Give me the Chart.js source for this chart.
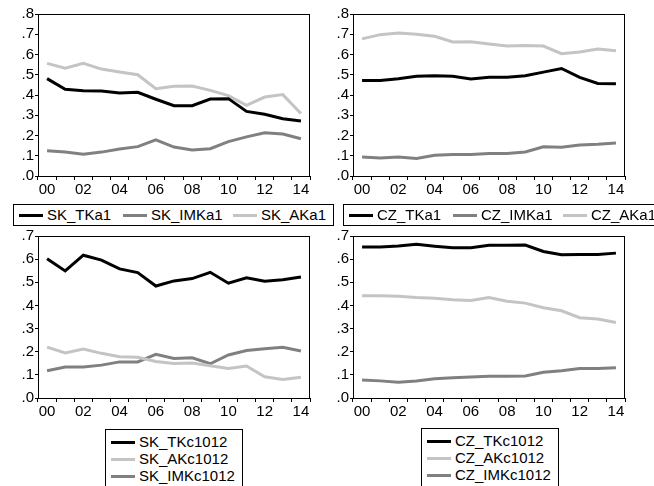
<!DOCTYPE html>
<html>
<head>
<meta charset="utf-8">
<script src="https://cdn.jsdelivr.net/npm/chart.js@4"></script>
<style>
  body { margin: 0; background: #fff; width: 654px; height: 486px; overflow: hidden; position: relative; font-family: "Liberation Sans", Arial, sans-serif; }
  .panel { position: absolute; }
  .legend { position: absolute; border: 1px solid #000; background: #fff; font-size: 15px; color: #000; }
  .legend .item { position: absolute; white-space: nowrap; line-height: 17px; }
  .legend .swatch { display: inline-block; width: 24px; height: 3px; vertical-align: middle; margin-right: 4px; position: relative; top: -1px; }
</style>
</head>
<body>
<div class="panel" style="left:0;top:0"><canvas id="c1" width="320" height="200"></canvas></div>
<div class="panel" style="left:315px;top:0"><canvas id="c2" width="335" height="200"></canvas></div>
<div class="panel" style="left:0;top:222px"><canvas id="c3" width="320" height="200"></canvas></div>
<div class="panel" style="left:315px;top:222px"><canvas id="c4" width="335" height="200"></canvas></div>
<div id="leg1" class="legend" style="left:13px;top:204px;width:319px;height:20px"></div>
<div id="leg2" class="legend" style="left:343px;top:204px;width:330px;height:20px"></div>
<div id="leg3" class="legend" style="left:105px;top:429px;width:136px;height:70px"></div>
<div id="leg4" class="legend" style="left:421px;top:428px;width:136px;height:70px"></div>
<script>
// --- DATA ---
const years = ['00','01','02','03','04','05','06','07','08','09','10','11','12','13','14'];

const skTKa1  = [0.481,0.428,0.421,0.420,0.410,0.413,0.379,0.347,0.347,0.380,0.382,0.319,0.305,0.283,0.272];
const skIMKa1 = [0.125,0.118,0.107,0.118,0.133,0.145,0.178,0.143,0.128,0.135,0.170,0.193,0.214,0.207,0.184];
const skAKa1  = [0.556,0.532,0.556,0.528,0.514,0.500,0.431,0.443,0.444,0.423,0.397,0.349,0.390,0.402,0.309];

const czTKa1  = [0.472,0.472,0.480,0.493,0.495,0.493,0.479,0.488,0.488,0.495,0.513,0.531,0.487,0.457,0.455];
const czIMKa1 = [0.094,0.089,0.094,0.087,0.102,0.106,0.106,0.111,0.111,0.119,0.144,0.142,0.153,0.157,0.163];
const czAKa1  = [0.677,0.698,0.706,0.700,0.690,0.662,0.663,0.652,0.642,0.644,0.642,0.604,0.612,0.627,0.619];

const skTKc1012  = [0.602,0.549,0.617,0.596,0.558,0.542,0.484,0.506,0.516,0.543,0.496,0.519,0.505,0.511,0.523];
const skAKc1012  = [0.220,0.195,0.212,0.193,0.178,0.176,0.158,0.149,0.151,0.139,0.128,0.138,0.092,0.080,0.090];
const skIMKc1012 = [0.118,0.134,0.134,0.142,0.156,0.156,0.189,0.171,0.174,0.148,0.186,0.205,0.213,0.219,0.203];

const czTKc1012  = [0.652,0.652,0.657,0.664,0.656,0.649,0.649,0.660,0.660,0.661,0.633,0.619,0.620,0.620,0.626];
const czAKc1012  = [0.442,0.442,0.440,0.434,0.431,0.425,0.421,0.434,0.418,0.410,0.390,0.377,0.347,0.341,0.326];
const czIMKc1012 = [0.078,0.074,0.068,0.073,0.083,0.087,0.091,0.094,0.094,0.095,0.111,0.118,0.127,0.127,0.131];

const BLACK = '#000000', MID = '#808080', LIGHT = '#c4c4c4';
const FONT = { family: '"Liberation Sans", Arial, sans-serif', size: 15 };

// --- PLUGIN: box around plot area ---
const framePlugin = {
  id: 'frame',
  afterDraw(chart) {
    const a = chart.chartArea, ctx = chart.ctx;
    ctx.save();
    ctx.strokeStyle = '#000';
    ctx.lineWidth = 1;
    ctx.strokeRect(Math.round(a.left) + 0.5, Math.round(a.top) + 0.5, Math.round(a.right - a.left) - 1, Math.round(a.bottom - a.top));
    ctx.restore();
  }
};

function makeChart(id, series, yMax, rightPad) {
  return new Chart(document.getElementById(id), {
    type: 'line',
    data: {
      labels: years,
      datasets: series.map(s => ({
        label: s.label, data: s.data, borderColor: s.color, borderWidth: 3,
        pointRadius: 0, tension: 0, fill: false
      }))
    },
    options: {
      responsive: false, animation: false, devicePixelRatio: 1,
      layout: { padding: { top: 14, right: rightPad, left: 0, bottom: 0 } },
      plugins: { legend: { display: false }, tooltip: { enabled: false } },
      scales: {
        x: {
          type: 'category', offset: true,
          grid: { offset: true, drawOnChartArea: false, drawTicks: true, tickLength: 4, color: '#000' },
          border: { color: '#000' },
          ticks: { color: '#000', font: FONT, autoSkip: false, maxRotation: 0, padding: 1,
                   callback: (v, i) => i % 2 === 0 ? years[i] : '' },
          afterFit: s => { s.height = 24; }
        },
        y: {
          min: 0, max: yMax,
          grid: { drawOnChartArea: false, drawTicks: true, tickLength: 3, color: '#000' },
          border: { color: '#000' },
          ticks: { color: '#000', font: FONT, stepSize: 0.1, padding: 1, autoSkip: false,
                   callback: v => v.toFixed(1).replace(/^0/, '') },
          afterFit: s => { s.width = 38; }
        }
      }
    },
    plugins: [framePlugin]
  });
}

function buildLegend(id, items, positions) {
  const el = document.getElementById(id);
  items.forEach((it, i) => {
    const d = document.createElement('div');
    d.className = 'item';
    d.style.left = positions[i][0] + 'px';
    d.style.top = positions[i][1] + 'px';
    d.innerHTML = `<span class="swatch" style="background:${it.color}"></span>${it.label}`;
    el.appendChild(d);
  });
}

document.addEventListener('DOMContentLoaded', () => {
  const s1 = [
    { label: 'SK_TKa1', data: skTKa1, color: BLACK },
    { label: 'SK_IMKa1', data: skIMKa1, color: MID },
    { label: 'SK_AKa1', data: skAKa1, color: LIGHT }
  ];
  const s2 = [
    { label: 'CZ_TKa1', data: czTKa1, color: BLACK },
    { label: 'CZ_IMKa1', data: czIMKa1, color: MID },
    { label: 'CZ_AKa1', data: czAKa1, color: LIGHT }
  ];
  const s3 = [
    { label: 'SK_TKc1012', data: skTKc1012, color: BLACK },
    { label: 'SK_AKc1012', data: skAKc1012, color: LIGHT },
    { label: 'SK_IMKc1012', data: skIMKc1012, color: MID }
  ];
  const s4 = [
    { label: 'CZ_TKc1012', data: czTKc1012, color: BLACK },
    { label: 'CZ_AKc1012', data: czAKc1012, color: LIGHT },
    { label: 'CZ_IMKc1012', data: czIMKc1012, color: MID }
  ];

  makeChart('c1', s1, 0.8, 10);
  makeChart('c2', s2, 0.8, 25);
  makeChart('c3', s3, 0.7, 10);
  makeChart('c4', s4, 0.7, 25);

  buildLegend('leg1', s1, [[5, 1], [109, 1], [219, 1]]);
  buildLegend('leg2', s2, [[5, 1], [109, 1], [219, 1]]);
  buildLegend('leg3', s3, [[5, 3], [5, 20], [5, 37]]);
  buildLegend('leg4', s4, [[5, 3], [5, 20], [5, 37]]);
});
</script>
</body>
</html>
